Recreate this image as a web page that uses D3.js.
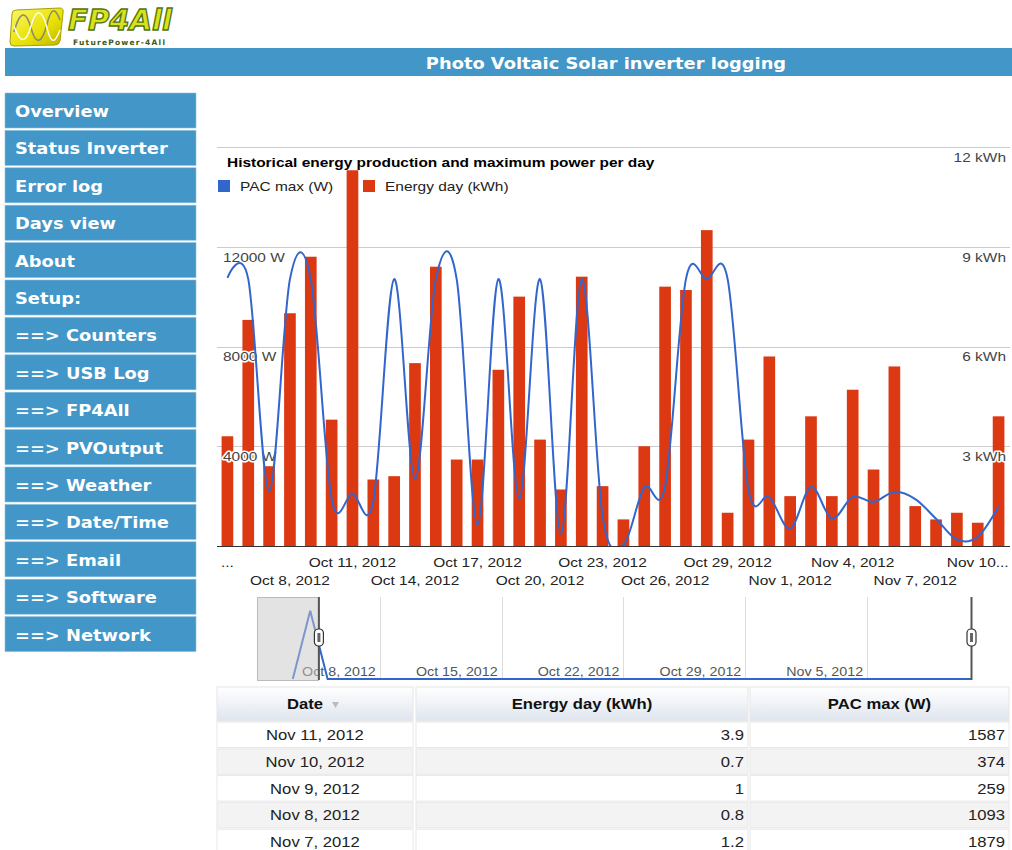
<!DOCTYPE html>
<html>
<head>
<meta charset="utf-8">
<script src="https://cdn.jsdelivr.net/npm/d3@7"></script>
<style>
  body { margin: 0; background: #fff; }
</style>
</head>
<body>
<div id="page"></div>
<script>
// days shown in the main chart
const days = [
  "2012-10-05", "2012-10-06", "2012-10-07", "2012-10-08", "2012-10-09", "2012-10-10",
  "2012-10-11", "2012-10-12", "2012-10-13", "2012-10-14", "2012-10-15", "2012-10-16",
  "2012-10-17", "2012-10-18", "2012-10-19", "2012-10-20", "2012-10-21", "2012-10-22",
  "2012-10-23", "2012-10-24", "2012-10-25", "2012-10-26", "2012-10-27", "2012-10-28",
  "2012-10-29", "2012-10-30", "2012-10-31", "2012-11-01", "2012-11-02", "2012-11-03",
  "2012-11-04", "2012-11-05", "2012-11-06", "2012-11-07", "2012-11-08", "2012-11-09",
  "2012-11-10", "2012-11-11",
];
// energy per day (kWh) - red bars
const energyDay = [
  3.3, 6.8, 2.4, 7.0, 8.7, 3.8,
  11.3, 2.0, 2.1, 5.5, 8.4, 2.6,
  2.6, 5.3, 7.5, 3.2, 1.7, 8.1,
  1.8, 0.8, 3.0, 7.8, 7.7, 9.5,
  1.0, 3.2, 5.7, 1.5, 3.9, 1.5,
  4.7, 2.3, 5.4, 1.2, 0.8, 1,
  0.7, 3.9,
];
// maximum power per day (W) - blue line
const pacMax = [
  10750, 10700, 2200, 10700, 10700, 1900,
  2100, 1800, 10700, 2700, 10700, 10700,
  850, 10700, 1900, 10700, 500, 10700,
  1200, 50, 2350, 2400, 10700, 10700,
  10700, 2250, 1970, 700, 2370, 1100,
  1970, 1770, 2170, 1879, 1093, 259,
  374, 1587,
];
// extra days only visible in the range filter overview
const overviewDays = ["2012-10-03", "2012-10-04"];
const overviewValues = [0, 1000];
const overviewTicks = ["2012-10-08", "2012-10-15", "2012-10-22", "2012-10-29", "2012-11-05"];
const selectedRange = ["2012-10-04T12:00", "2012-11-11T00:00"];

// x axis labels (two staggered rows)
const axisTicksTop = ["2012-10-05", "2012-10-11", "2012-10-17", "2012-10-23", "2012-10-29", "2012-11-04", "2012-11-10"];
const axisTicksBottom = ["2012-10-08", "2012-10-14", "2012-10-20", "2012-10-26", "2012-11-01", "2012-11-07"];
const gridKwh = [0, 3, 6, 9, 12];
const wattLabels = [4000, 8000, 12000];
const kwhLabels = [3, 6, 9, 12];

const menuItems = [
  "Overview", "Status Inverter", "Error log", "Days view", "About", "Setup:",
  "==> Counters", "==> USB Log", "==> FP4All", "==> PVOutput", "==> Weather",
  "==> Date/Time", "==> Email", "==> Software", "==> Network",
];
const tableColumns = ["Date", "Energy day (kWh)", "PAC max (W)"];

// appearance
const settings = {
  width: 1012,
  height: 850,
  blue: "#4296c8",
  plot: { left: 217, right: 1009, top: 147, bottom: 546 },
  range: { left: 258, right: 971.5, top: 597, bottom: 680 },
  barColor: "#dc3912",
  lineColor: "#3366cc",
  gridColor: "#cccccc",
  chartFont: "'Liberation Sans', Arial, sans-serif",
  pageFont: "'DejaVu Sans', Verdana, sans-serif",
  textStretch: 1.19, // the page is drawn a bit wider than tall, text included
};

const parseDay = d3.timeParse("%Y-%m-%d");
const parseTime = d3.timeParse("%Y-%m-%dT%H:%M");
const formatDay = d3.timeFormat("%b %-d, %Y");

const svg = d3
  .select("#page")
  .append("svg")
  .attr("width", settings.width)
  .attr("height", settings.height)
  .style("display", "block");
const defs = svg.append("defs");

// ---------- logo ----------
const badge = defs.append("linearGradient").attr("id", "badge").attr("x1", 0).attr("y1", 0).attr("x2", 1).attr("y2", 1);
badge.append("stop").attr("offset", 0).attr("stop-color", "#fbf86a");
badge.append("stop").attr("offset", 0.6).attr("stop-color", "#e8e000");
badge.append("stop").attr("offset", 1).attr("stop-color", "#b9b000");

const logo = svg.append("g").attr("class", "logo");
logo
  .append("path")
  .attr("d", "M16,10 L60,8 Q64,8 63,13 L60,41 Q59,45 55,45 L14,46 Q10,46 10,42 L12,14 Q12,10 16,10 Z")
  .attr("fill", "url(#badge)")
  .attr("stroke", "#a8a000")
  .attr("stroke-width", 1);
logo
  .append("path")
  .attr("d", "M14,32 C20,10 26,10 31,28 S42,44 47,24 S56,10 60,20")
  .attr("fill", "none")
  .attr("stroke", "#8a8a70")
  .attr("stroke-width", 1.6);
logo
  .append("path")
  .attr("d", "M14,26 C20,44 26,44 31,26 S42,8 47,28 S56,40 60,30")
  .attr("fill", "none")
  .attr("stroke", "#ffffff")
  .attr("stroke-width", 1.4);
logo
  .append("text")
  .attr("class", "no-stretch")
  .text("FP4All")
  .attr("x", 68)
  .attr("y", 30)
  .attr("transform", "translate(0,30) scale(1,1.15) translate(0,-30)")
  .style("font-family", settings.pageFont)
  .style("font-weight", "bold")
  .style("font-style", "italic")
  .style("font-size", "24px")
  .attr("textLength", 104)
  .attr("lengthAdjust", "spacingAndGlyphs")
  .attr("fill", "#d9e21a")
  .attr("stroke", "#4f7412")
  .attr("stroke-width", 1.1);
logo
  .append("text")
  .attr("class", "no-stretch")
  .text("FuturePower-4All")
  .attr("x", 73)
  .attr("y", 44.5)
  .style("font-family", settings.pageFont)
  .style("font-weight", "bold")
  .style("font-size", "7.5px")
  .attr("textLength", 92)
  .attr("fill", "#3d5a10");

// ---------- header bar ----------
svg
  .append("rect")
  .attr("x", 5)
  .attr("y", 48)
  .attr("width", settings.width - 5)
  .attr("height", 28)
  .attr("fill", settings.blue);
svg
  .append("text")
  .text("Photo Voltaic Solar inverter logging")
  .attr("x", 606)
  .attr("y", 69)
  .attr("text-anchor", "middle")
  .style("font-family", settings.pageFont)
  .style("font-weight", "bold")
  .style("font-size", "15px")
  .attr("fill", "#fff");

// ---------- side menu ----------
const menu = svg
  .append("g")
  .selectAll("g")
  .data(menuItems)
  .join("g")
  .attr("transform", (d, i) => `translate(5, ${93 + i * 37.4})`);
menu
  .append("rect")
  .attr("width", 191)
  .attr("height", 35)
  .attr("fill", settings.blue)
  .attr("stroke", "#8cc0e0")
  .attr("stroke-width", 0.6);
menu
  .append("text")
  .text((d) => d)
  .attr("x", 10)
  .attr("y", 24)
  .style("font-family", settings.pageFont)
  .style("font-weight", "bold")
  .style("font-size", "15px")
  .attr("fill", "#fff");

// ---------- main combo chart ----------
const plot = settings.plot;
const x = d3
  .scaleBand()
  .domain(days)
  .range([plot.left, plot.right])
  .paddingInner(0.44)
  .paddingOuter(0.22);
const yW = d3.scaleLinear().domain([0, 16000]).range([plot.bottom, plot.top]);
const yK = d3.scaleLinear().domain([0, 12]).range([plot.bottom, plot.top]);
const bw = x.bandwidth();

const chart = svg.append("g").attr("class", "chart").style("font-family", settings.chartFont);

// gridlines
chart
  .append("g")
  .selectAll("line")
  .data(gridKwh.filter((d) => d !== 0))
  .join("line")
  .attr("x1", plot.left)
  .attr("x2", plot.right + 1)
  .attr("y1", (d) => Math.round(yK(d)) + 0.5)
  .attr("y2", (d) => Math.round(yK(d)) + 0.5)
  .attr("stroke", settings.gridColor);

// title + legend
chart
  .append("text")
  .text("Historical energy production and maximum power per day")
  .attr("x", 227)
  .attr("y", 167)
  .style("font-weight", "bold")
  .style("font-size", "13px")
  .attr("fill", "#000");

const legend = chart
  .append("g")
  .selectAll("g")
  .data([
    { label: "PAC max (W)", color: settings.lineColor, x: 218 },
    { label: "Energy day (kWh)", color: settings.barColor, x: 363 },
  ])
  .join("g")
  .attr("transform", (d) => `translate(${d.x}, 180)`);
legend.append("rect").attr("width", 12).attr("height", 12).attr("fill", (d) => d.color);
legend
  .append("text")
  .text((d) => d.label)
  .attr("x", 22)
  .attr("y", 11)
  .style("font-size", "13px")
  .attr("fill", "#222");

// bars
chart
  .append("g")
  .selectAll("rect")
  .data(days)
  .join("rect")
  .attr("x", (d) => x(d))
  .attr("y", (d, i) => yK(energyDay[i]))
  .attr("width", bw)
  .attr("height", (d, i) => yK(0) - yK(energyDay[i]))
  .attr("fill", settings.barColor);

// baseline
chart
  .append("line")
  .attr("x1", plot.left)
  .attr("x2", plot.right + 1)
  .attr("y1", yK(0) + 0.5)
  .attr("y2", yK(0) + 0.5)
  .attr("stroke", "#333");

// in-chart axis labels with white halo
const labelStyle = (sel) =>
  sel
    .style("font-size", "13px")
    .attr("fill", "#444")
    .attr("stroke", "#fff")
    .attr("stroke-width", 3)
    .attr("stroke-linejoin", "round")
    .style("paint-order", "stroke");

chart
  .append("g")
  .selectAll("text")
  .data(wattLabels)
  .join("text")
  .text((d) => `${d} W`)
  .attr("x", 223)
  .attr("y", (d) => yW(d) + 15)
  .call(labelStyle);
chart
  .append("g")
  .selectAll("text")
  .data(kwhLabels)
  .join("text")
  .text((d) => `${d} kWh`)
  .attr("x", 1006)
  .attr("y", (d) => yK(d) + 15)
  .attr("text-anchor", "end")
  .call(labelStyle);

// smooth PAC max line, clipped to the chart area
defs
  .append("clipPath")
  .attr("id", "plot-clip")
  .append("rect")
  .attr("x", plot.left)
  .attr("y", plot.top)
  .attr("width", plot.right - plot.left)
  .attr("height", plot.bottom - plot.top);

const line = d3
  .line()
  .x((d) => x(d) + bw / 2)
  .y((d, i) => yW(pacMax[i]))
  .curve(d3.curveCardinal);
chart
  .append("path")
  .datum(days)
  .attr("d", line)
  .attr("clip-path", "url(#plot-clip)")
  .attr("fill", "none")
  .attr("stroke", settings.lineColor)
  .attr("stroke-width", 2);

// shorten labels that run out of the chart, the way the original does
function truncate(textSel) {
  textSel.each(function (d) {
    const el = d3.select(this);
    const cx = x(d) + bw / 2;
    const room = (2 * Math.min(cx - (plot.left + 2), settings.width - cx)) / settings.textStretch;
    let words = el.text().split(" ");
    if (this.getComputedTextLength() <= room) return;
    while (words.length) {
      words.pop();
      const t = words.join(" ").replace(/[,\s]+$/, "") + "...";
      el.text(t);
      if (this.getComputedTextLength() <= room) return;
    }
    el.text("...");
  });
}

[
  { ticks: axisTicksTop, y: 558 },
  { ticks: axisTicksBottom, y: 576 },
].forEach((row) => {
  const axis = d3
    .axisBottom(x)
    .tickValues(row.ticks)
    .tickSize(0)
    .tickPadding(0)
    .tickFormat((d) => formatDay(parseDay(d)));
  const g = chart.append("g").attr("transform", `translate(0, ${row.y})`).call(axis);
  g.select(".domain").remove();
  g.attr("font-family", settings.chartFont).attr("font-size", 13);
  g.selectAll("text").attr("fill", "#222").call(truncate);
});

// ---------- range filter ----------
const range = settings.range;
const overviewX = d3
  .scaleTime()
  .domain([parseDay("2012-10-01"), parseDay("2012-11-11")])
  .range([range.left, range.right]);
const overviewY = d3.scaleLinear().domain([0, 1200]).range([range.bottom, range.top]);

const filter = svg.append("g").attr("class", "range-filter").style("font-family", settings.chartFont);

filter
  .append("g")
  .selectAll("line")
  .data(overviewTicks)
  .join("line")
  .attr("x1", (d) => Math.round(overviewX(parseDay(d))) + 0.5)
  .attr("x2", (d) => Math.round(overviewX(parseDay(d))) + 0.5)
  .attr("y1", range.top)
  .attr("y2", range.bottom)
  .attr("stroke", "#dddddd");

filter
  .append("g")
  .selectAll("text")
  .data(overviewTicks)
  .join("text")
  .text((d) => formatDay(parseDay(d)))
  .attr("x", (d) => overviewX(parseDay(d)) - 4)
  .attr("y", 676)
  .attr("text-anchor", "end")
  .style("font-size", "12px")
  .attr("fill", "#555");

const overviewSeries = overviewDays
  .map((d, i) => ({ day: d, value: overviewValues[i] }))
  .concat(days.map((d, i) => ({ day: d, value: energyDay[i] })));

filter
  .append("path")
  .datum(overviewSeries)
  .attr(
    "d",
    d3
      .line()
      .x((d) => overviewX(parseDay(d.day)))
      .y((d) => Math.min(overviewY(d.value), range.bottom - 1))
  )
  .attr("fill", "none")
  .attr("stroke", settings.lineColor)
  .attr("stroke-width", 2);

const selStart = overviewX(parseTime(selectedRange[0]));
const selEnd = overviewX(parseTime(selectedRange[1]));

// greyed-out part left of the selection
filter
  .append("rect")
  .attr("x", range.left - 0.5)
  .attr("y", range.top + 0.5)
  .attr("width", selStart - range.left)
  .attr("height", range.bottom - range.top)
  .attr("fill", "rgba(200,200,200,0.5)")
  .attr("stroke", "#bbb");

// handles
const handles = filter
  .append("g")
  .selectAll("g")
  .data([selStart, selEnd])
  .join("g")
  .attr("transform", (d) => `translate(${d}, 0)`);
handles
  .append("line")
  .attr("y1", range.top)
  .attr("y2", range.bottom)
  .attr("stroke", "#555")
  .attr("stroke-width", 2);
handles
  .append("rect")
  .attr("x", -4.5)
  .attr("y", 629)
  .attr("width", 9)
  .attr("height", 17)
  .attr("rx", 4)
  .attr("fill", "#fff")
  .attr("stroke", "#333")
  .attr("stroke-width", 1.2);
handles
  .append("rect")
  .attr("x", -1.5)
  .attr("y", 633)
  .attr("width", 3)
  .attr("height", 9)
  .attr("fill", "#666");

// ---------- table of the latest days ----------
const latest = days
  .map((d, i) => ({ day: d, energy: energyDay[i], pac: pacMax[i] }))
  .slice(-5)
  .reverse();

const cols = [
  { x: 217, w: 196, anchor: "middle", value: (r) => formatDay(parseDay(r.day)) },
  { x: 416, w: 332, anchor: "end", value: (r) => String(r.energy) },
  { x: 750, w: 259, anchor: "end", value: (r) => String(r.pac) },
];
const headGrad = defs.append("linearGradient").attr("id", "head").attr("x1", 0).attr("y1", 0).attr("x2", 0).attr("y2", 1);
headGrad.append("stop").attr("offset", 0).attr("stop-color", "#ffffff");
headGrad.append("stop").attr("offset", 1).attr("stop-color", "#dfe5ee");

const table = svg.append("g").attr("class", "table").style("font-family", settings.chartFont);
const head = table
  .append("g")
  .selectAll("g")
  .data(cols)
  .join("g")
  .attr("transform", (d) => `translate(${d.x}, 687)`);
head
  .append("rect")
  .attr("width", (d) => d.w)
  .attr("height", 34)
  .attr("fill", "url(#head)")
  .attr("stroke", "#e6e6e6");
head
  .append("text")
  .text((d, i) => tableColumns[i])
  .attr("x", (d, i) => d.w / 2 - (i === 0 ? 10 : 0))
  .attr("y", 22)
  .attr("text-anchor", "middle")
  .style("font-weight", "bold")
  .style("font-size", "14px")
  .attr("fill", "#111");
// sort indicator on the Date column
table
  .append("path")
  .attr("d", "M332,702 L339,702 L335.5,708 Z")
  .attr("fill", "#bbb");

const rows = table
  .append("g")
  .selectAll("g")
  .data(latest)
  .join("g")
  .attr("transform", (d, i) => `translate(0, ${722 + i * 26.8})`);
cols.forEach((c) => {
  rows
    .append("rect")
    .attr("x", c.x)
    .attr("width", c.w)
    .attr("height", 25.5)
    .attr("fill", (d, i) => (i % 2 ? "#f3f3f3" : "#fff"))
    .attr("stroke", "#e8e8e8");
  rows
    .append("text")
    .text(c.value)
    .attr("x", c.anchor === "middle" ? c.x + c.w / 2 : c.x + c.w - 4)
    .attr("y", 18)
    .attr("text-anchor", c.anchor)
    .style("font-size", "14px")
    .attr("fill", "#222");
});

// widen every text around its anchor point to match the stretched original
svg.selectAll("text:not(.no-stretch)").each(function () {
  const t = d3.select(this);
  const px = +t.attr("x") || 0;
  const py = +t.attr("y") || 0;
  t.attr("transform", `translate(${px},${py}) scale(${settings.textStretch},1) translate(${-px},${-py})`);
});
</script>
</body>
</html>
